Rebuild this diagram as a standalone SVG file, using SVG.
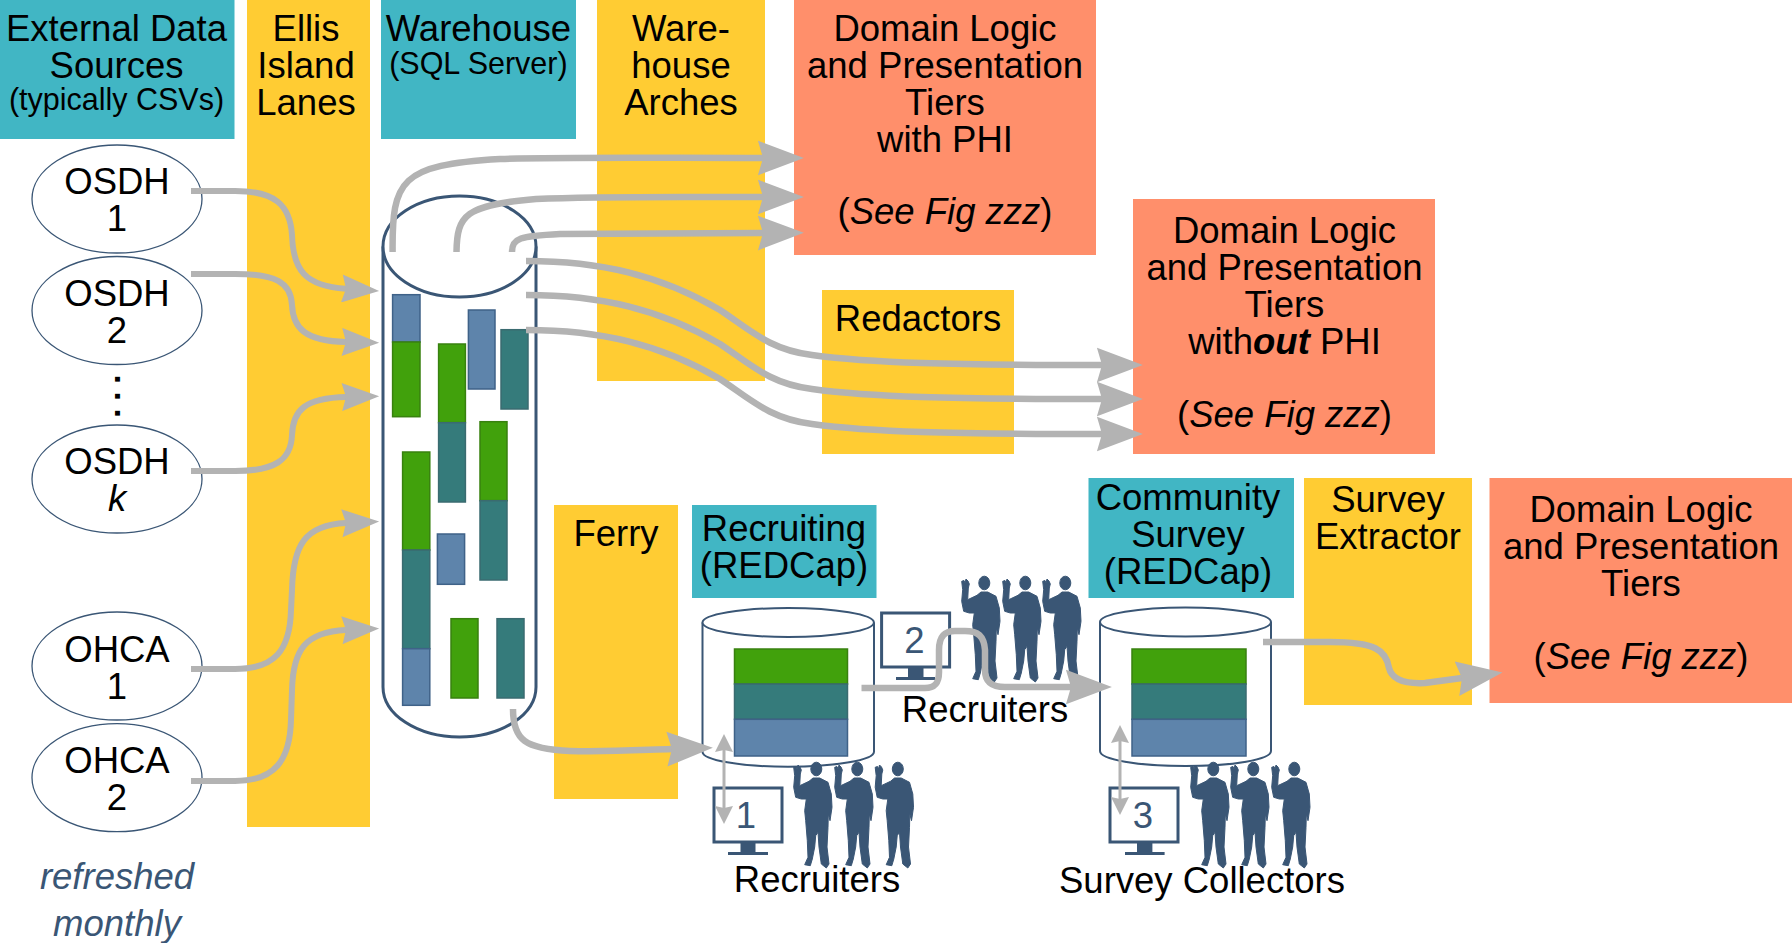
<svg xmlns="http://www.w3.org/2000/svg" width="1792" height="943" viewBox="0 0 1792 943">
<style>
text{font-family:"Liberation Sans",Arial,sans-serif;font-size:36.5px;fill:#000;text-anchor:middle}
.s{font-size:30.5px}
.i{font-style:italic}
.n{fill:#3a5675}
.teal{fill:#41b6c4}.yel{fill:#ffcc33}.sal{fill:#ff8f6b}
.el{fill:#fff;stroke:#3a5675;stroke-width:1.3}
.cy{fill:#fff;stroke:#3a5675;stroke-width:3}
.cs{fill:#fff;stroke:#3a5675;stroke-width:2}
.g{fill:#41a10c;stroke:#38810f;stroke-width:1.5}
.t{fill:#357b7b;stroke:#3a6b70;stroke-width:1.5}
.b{fill:#5e84ab;stroke:#3f6288;stroke-width:1.5}
.c{fill:none;stroke:#b3b3b3;stroke-width:6.5;marker-end:url(#h2)}
.c1{stroke-width:6;marker-end:url(#h1)}
.d{fill:none;stroke:#b3b3b3;stroke-width:3;marker-start:url(#h3);marker-end:url(#h3)}
.mon{fill:#fff;stroke:#3a5675;stroke-width:3}
.mf{fill:#3a5675}
.pf{fill:#3a5675;stroke:#3a5675;stroke-width:1;stroke-linejoin:round}
</style>
<defs>
<marker id="h1" markerUnits="userSpaceOnUse" markerWidth="38" markerHeight="28" viewBox="0 0 36 27" refX="4" refY="13.5" orient="auto"><path d="M0,0L36,13.5L0,27L4,13.5Z" fill="#b3b3b3"/></marker>
<marker id="h2" markerUnits="userSpaceOnUse" markerWidth="46" markerHeight="36" viewBox="0 0 45 34" refX="5" refY="17" orient="auto"><path d="M0,0L45,17L0,34L5,17Z" fill="#b3b3b3"/></marker>
<marker id="h3" markerUnits="userSpaceOnUse" markerWidth="18" markerHeight="18" viewBox="0 0 18 18" refX="2" refY="9" orient="auto-start-reverse"><path d="M0,0L18,9L0,18L2,9Z" fill="#b3b3b3"/></marker>
<symbol id="person" viewBox="0 0 40 107" width="40" height="107" overflow="visible">
<path class="pf" d="M0.7,5.3L3,4.5L4,7L5,3L7,5L8.3,8L7.3,12L6.7,23.7L16,19.3L20,16L26.7,16L35,20.3L38.3,32L39,45.3L37,58.7L35.3,52L35,65.3L34,85L36,102L33.3,106L28.3,102L26,85L25,70.3L22.7,73.7L21.7,85L19.3,97L17.3,103.7L11.7,102.7L15,95.3L14.3,78.7L12.7,58.7L11.7,48.7L13.3,37L8.3,37L2.7,35.3L0.7,25.3L1.7,13.7Z"/>
<ellipse class="pf" cx="23.3" cy="7" rx="5.5" ry="6.8"/>
</symbol>
</defs>

<g id="external-sources">
<rect class="teal" x="0" y="0" width="234.5" height="139"/>
<text><tspan x="116.5" y="41">External Data</tspan><tspan x="116.5" y="78">Sources</tspan><tspan class="s" x="116.5" y="110">(typically CSVs)</tspan></text>
</g>
<g id="ellis-island"><rect class="yel" x="247" y="0" width="123" height="827"/>
<text><tspan x="306" y="41">Ellis</tspan><tspan x="306" y="78">Island</tspan><tspan x="306" y="115">Lanes</tspan></text>
</g>
<g id="warehouse-label"><rect class="teal" x="381" y="0" width="195" height="139"/>
<text><tspan x="478.4" y="41">Warehouse</tspan><tspan class="s" x="478.4" y="74">(SQL Server)</tspan></text>
</g>
<g id="warehouse-arches"><rect class="yel" x="597" y="0" width="168" height="381"/>
<text><tspan x="681" y="41">Ware-</tspan><tspan x="681" y="78">house</tspan><tspan x="681" y="115">Arches</tspan></text>
</g>
<g id="domain-phi"><rect class="sal" x="794" y="0" width="302" height="255"/>
<text><tspan x="945" y="41">Domain Logic</tspan><tspan x="945" y="78">and Presentation</tspan><tspan x="945" y="115">Tiers</tspan><tspan x="945" y="152">with PHI</tspan><tspan x="945" y="224">(<tspan class="i">See Fig zzz</tspan>)</tspan></text>
</g>
<g id="redactors"><rect class="yel" x="822" y="290" width="192" height="164"/>
<text x="918" y="331">Redactors</text>
</g>
<g id="domain-no-phi"><rect class="sal" x="1133" y="199" width="302" height="255"/>
<text><tspan x="1284.5" y="243">Domain Logic</tspan><tspan x="1284.5" y="280">and Presentation</tspan><tspan x="1284.5" y="317">Tiers</tspan><tspan x="1284.5" y="354">with<tspan class="i" font-weight="bold">out</tspan> PHI</tspan><tspan x="1284.5" y="427">(<tspan class="i">See Fig zzz</tspan>)</tspan></text>
</g>
<g id="ferry"><rect class="yel" x="554" y="505" width="124" height="294"/>
<text x="616" y="546">Ferry</text>
</g>
<g id="recruiting-label"><rect class="teal" x="692" y="505" width="184.5" height="93"/>
<text><tspan x="784" y="541">Recruiting</tspan><tspan x="784" y="578">(REDCap)</tspan></text>
</g>
<g id="community-label"><rect class="teal" x="1088.5" y="478" width="205.5" height="120"/>
<text><tspan x="1188" y="510">Community</tspan><tspan x="1188" y="547">Survey</tspan><tspan x="1188" y="584">(REDCap)</tspan></text>
</g>
<g id="survey-extractor"><rect class="yel" x="1304" y="478" width="168" height="227"/>
<text><tspan x="1388" y="512">Survey</tspan><tspan x="1388" y="549">Extractor</tspan></text>
</g>
<g id="domain-survey"><rect class="sal" x="1489.5" y="478" width="302.5" height="225"/>
<text><tspan x="1641" y="522">Domain Logic</tspan><tspan x="1641" y="559">and Presentation</tspan><tspan x="1641" y="596">Tiers</tspan><tspan x="1641" y="669">(<tspan class="i">See Fig zzz</tspan>)</tspan></text>
</g>

<g id="osdh-1"><ellipse class="el" cx="117" cy="199" rx="85" ry="54"/>
<text><tspan x="117" y="194">OSDH</tspan><tspan x="117" y="231">1</tspan></text></g>
<g id="osdh-2"><ellipse class="el" cx="117" cy="310.5" rx="85" ry="54"/>
<text><tspan x="117" y="306">OSDH</tspan><tspan x="117" y="343">2</tspan></text></g>
<g id="ellipsis"><text transform="translate(114.5,374.5) rotate(90)" style="text-anchor:start;font-weight:bold;letter-spacing:7.5px;font-size:34px">...</text></g>
<g id="osdh-k"><ellipse class="el" cx="117" cy="479" rx="85" ry="54"/>
<text><tspan x="117" y="474">OSDH</tspan><tspan class="i" x="117" y="511">k</tspan></text></g>
<g id="ohca-1"><ellipse class="el" cx="117" cy="666" rx="85" ry="54"/>
<text><tspan x="117" y="662">OHCA</tspan><tspan x="117" y="699">1</tspan></text></g>
<g id="ohca-2"><ellipse class="el" cx="117" cy="777.7" rx="85" ry="54"/>
<text><tspan x="117" y="773">OHCA</tspan><tspan x="117" y="810">2</tspan></text></g>
<g id="refreshed-note">
<text class="i n"><tspan x="117" y="889">refreshed</tspan><tspan x="117" y="936">monthly</tspan></text>
</g>

<g id="warehouse">
<path class="cy" d="M383,246.5V687A76.5,50 0 0 0 536,687V246.5"/>
<ellipse class="cy" cx="459.5" cy="246.5" rx="76.5" ry="50.5"/>
<rect class="b" x="392.6" y="294.7" width="27.4" height="47.3"/>
<rect class="g" x="392.6" y="342" width="27.4" height="74.7"/>
<rect class="g" x="438.6" y="344" width="26.8" height="78.7"/>
<rect class="t" x="438.6" y="422.7" width="26.8" height="79.3"/>
<rect class="b" x="468.4" y="310" width="26.6" height="79"/>
<rect class="t" x="501" y="329.7" width="27" height="79.3"/>
<rect class="g" x="402.6" y="452" width="27.2" height="98"/>
<rect class="t" x="402.6" y="550" width="27.2" height="98.7"/>
<rect class="b" x="402.6" y="648.7" width="27.2" height="56.6"/>
<rect class="g" x="480" y="421.7" width="27" height="79"/>
<rect class="t" x="480" y="500.7" width="27" height="79.3"/>
<rect class="b" x="437.4" y="534" width="27.2" height="50.3"/>
<rect class="g" x="451" y="618.7" width="27" height="79.3"/>
<rect class="t" x="497" y="618.7" width="27" height="79.3"/>
</g>

<g id="recruiting-db">
<path class="cs" d="M702.5,622.5V751.7C702.5,760 740,766.7 788,766.7C836,766.7 874,760 874,751.7V622.5"/>
<ellipse class="cs" cx="788.2" cy="622.5" rx="85.7" ry="14.5"/>
<rect class="g" x="734.5" y="649" width="113" height="35"/>
<rect class="t" x="734.5" y="684" width="113" height="35.3"/>
<rect class="b" x="734.5" y="719.3" width="113" height="36.7"/>
</g>
<g id="survey-db">
<path class="cs" d="M1100,622V751C1100,759.5 1138,766 1185.5,766C1233,766 1271,759.5 1271,751V622"/>
<ellipse class="cs" cx="1185.5" cy="622" rx="85.5" ry="14.5"/>
<rect class="g" x="1132" y="649" width="114" height="35"/>
<rect class="t" x="1132" y="684" width="114" height="35.3"/>
<rect class="b" x="1132" y="719.3" width="114" height="36.7"/>
</g>

<g id="screen-1"><rect class="mon" x="714" y="788" width="68" height="54"/>
<rect class="mf" x="740.5" y="843" width="15" height="10"/><rect class="mf" x="728" y="852" width="40" height="3"/>
<text class="n" x="746" y="827.5">1</text></g>
<g id="screen-2"><rect class="mon" x="881.6" y="613" width="68" height="54"/>
<rect class="mf" x="908" y="668" width="15.5" height="10"/><rect class="mf" x="896" y="677" width="39" height="3"/>
<text class="n" x="914.5" y="652.5">2</text></g>
<g id="screen-3"><rect class="mon" x="1110" y="788" width="68" height="54"/>
<rect class="mf" x="1137" y="843" width="15.4" height="10"/><rect class="mf" x="1125" y="852" width="39.6" height="3"/>
<text class="n" x="1143" y="827.5">3</text></g>

<g id="recruiters-1">
<use href="#person" x="793" y="762"/><use href="#person" x="834" y="762"/><use href="#person" x="874.5" y="762"/>
<text x="817" y="892">Recruiters</text>
</g>
<g id="recruiters-2">
<use href="#person" x="961" y="576"/><use href="#person" x="1002" y="576"/><use href="#person" x="1042" y="576"/>
<text x="985" y="722">Recruiters</text>
</g>
<g id="survey-collectors">
<use href="#person" x="1190" y="762"/><use href="#person" x="1230" y="762"/><use href="#person" x="1271" y="762"/>
<text x="1202" y="893">Survey Collectors</text>
</g>

<g id="connectors">
<path class="c c1" d="M191,191H235C275,191 290,205 292,235C293,270 305,286 346,288.7"/>
<path class="c c1" d="M191,274H235C275,274 291,282 292,305C293,328 305,341 346,342"/>
<path class="c c1" d="M191,471H235C275,471 291,460 292,435C293,410 305,398 346,397"/>
<path class="c c1" d="M191,669H235C275,669 290,650 291,610L292,590C293,545 305,525 346,523"/>
<path class="c c1" d="M191,781H235C275,781 290,760 291,720L292,690C293,650 305,632 346,630"/>
<path class="c" d="M392.6,252C392,180 400,165 500,159C560,157 650,158 763,158"/>
<path class="c" d="M456.5,252C457,215 465,205 536,199C600,196 680,197 763,197"/>
<path class="c" d="M512,252C512,238 520,236 560,234L763,233"/>
<path class="c" d="M526,261C600,261 660,275 720,310C750,330 770,350 812,355C870,363 950,365 1102,365"/>
<path class="c" d="M526,295C600,295 660,309 720,344C750,364 770,384 812,389C870,397 950,399 1102,399"/>
<path class="c" d="M526,330C600,330 660,344 720,379C750,399 770,419 812,424C870,432 950,434 1102,434"/>
<path class="c" d="M513,709C513,740 525,749 570,751C610,752 640,750 672,749"/>
<path class="c" d="M861.5,688H925C936,688 939,682 939,672V650C939,636 945,631 955,631H965C978,631 984,636 985,650V670C985,682 992,687 1005,687H1071"/>
<path class="c" d="M1263,642H1330C1375,642 1386,650 1389,668C1392,680 1405,684 1425,683L1462,678"/>
<path class="d" d="M724,750V808"/>
<path class="d" d="M1120,741V799"/>
</g>
</svg>
